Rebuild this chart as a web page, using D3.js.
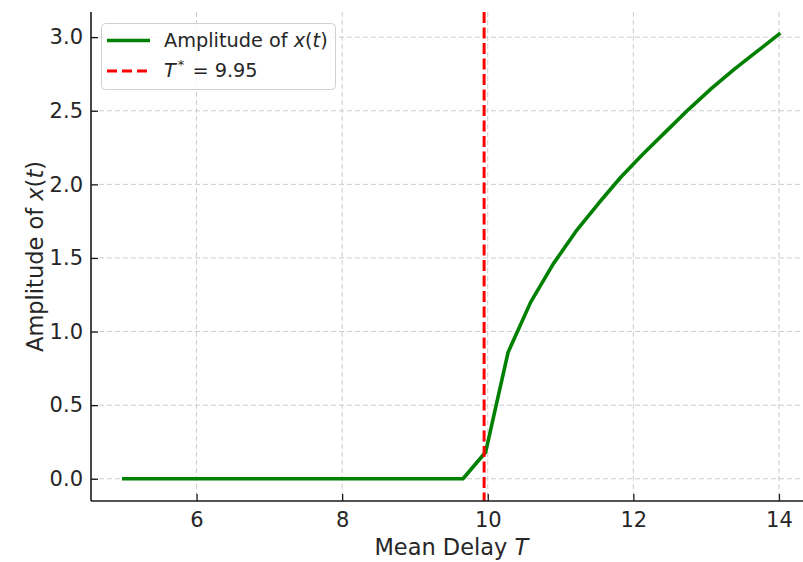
<!DOCTYPE html>
<html>
<head>
<meta charset="utf-8">
<script src="https://cdn.jsdelivr.net/npm/d3@7"></script>
<style>
  html, body { margin: 0; padding: 0; background: #fff; overflow: hidden; }
  svg { display: block; font-family: "DejaVu Sans", sans-serif; }
</style>
</head>
<body>
<svg id="chart" width="803" height="562"></svg>
<script>
// ---- data ----
const delayT = [5.00, 5.31, 5.62, 5.93, 6.24, 6.55, 6.86, 7.17, 7.48, 7.79,
                8.10, 8.41, 8.72, 9.03, 9.34, 9.66, 9.97, 10.28, 10.59, 10.90,
                11.21, 11.52, 11.83, 12.14, 12.45, 12.76, 13.07, 13.38, 13.69, 14.00];
const amplitude = [0, 0, 0, 0, 0, 0, 0, 0, 0, 0,
                   0, 0, 0, 0, 0, 0, 0.18, 0.86, 1.20, 1.46,
                   1.68, 1.87, 2.05, 2.21, 2.36, 2.51, 2.65, 2.78, 2.90, 3.02];
const criticalT = 9.95;
const xTicks = [6, 8, 10, 12, 14];
const yTicks = [0.0, 0.5, 1.0, 1.5, 2.0, 2.5, 3.0];

(function () {
// ---- layout ----
const pLeft = 91, pTop = 12, pBottom = 501, pRight = 811.7;
const svg = d3.select("#chart");

const xMin = d3.min(delayT), xMax = d3.max(delayT);
const xPad = (xMax - xMin) * 0.05;
const yMin = d3.min(amplitude), yMax = d3.max(amplitude);
const yPad = (yMax - yMin) * 0.05;

const x = d3.scaleLinear().domain([xMin - xPad, xMax + xPad]).range([pLeft, pRight]);
const y = d3.scaleLinear().domain([yMin - yPad, yMax + yPad]).range([pBottom, pTop]);

const gridColor = "#cbcbcb";
const textColor = "#262626";

// grid
const grid = svg.append("g");
grid.selectAll("line.vx").data(xTicks).join("line")
  .attr("x1", d => x(d)).attr("x2", d => x(d))
  .attr("y1", pTop).attr("y2", pBottom)
  .attr("stroke", gridColor).attr("stroke-width", 1).attr("stroke-dasharray", "5,3");
grid.selectAll("line.hy").data(yTicks).join("line")
  .attr("x1", pLeft).attr("x2", pRight)
  .attr("y1", d => y(d)).attr("y2", d => y(d))
  .attr("stroke", gridColor).attr("stroke-width", 1).attr("stroke-dasharray", "5,3");

// amplitude line
const data = delayT.map((t, i) => ({t, a: amplitude[i]}));
svg.append("path")
  .datum(data)
  .attr("fill", "none")
  .attr("stroke", "#008000")
  .attr("stroke-width", 3.6)
  .attr("stroke-linejoin", "round")
  .attr("stroke-linecap", "square")
  .attr("d", d3.line().x(d => x(d.t)).y(d => y(d.a)));

// critical delay line
svg.append("line")
  .attr("x1", x(criticalT)).attr("x2", x(criticalT))
  .attr("y1", pTop).attr("y2", pBottom)
  .attr("stroke", "#ff0000").attr("stroke-width", 3)
  .attr("stroke-dasharray", "11,4.5");

// axes
const xAxis = d3.axisBottom(x).tickValues(xTicks).tickFormat(d3.format("d"))
  .tickSizeInner(-7).tickSizeOuter(0).tickPadding(11);
const yAxis = d3.axisLeft(y).tickValues(yTicks).tickFormat(d3.format(".1f"))
  .tickSizeInner(-7).tickSizeOuter(0).tickPadding(8);

const gx = svg.append("g").attr("transform", `translate(0,${pBottom})`).call(xAxis);
const gy = svg.append("g").attr("transform", `translate(${pLeft},0)`).call(yAxis);
[gx, gy].forEach(g => {
  g.attr("font-size", null).attr("font-family", null);
  g.select(".domain").attr("stroke", "#1a1a1a").attr("stroke-width", 1.6);
  g.selectAll(".tick line").attr("stroke", "#1a1a1a").attr("stroke-width", 1.3);
  g.selectAll(".tick text").attr("fill", textColor)
    .style("font-family", "DejaVu Sans").style("font-size", "21px");
});
gx.select(".domain").attr("d", `M${pLeft},0H${pRight}`);
gy.select(".domain").attr("d", `M0,${pTop}V${pBottom}`);

// axis labels
const xl = svg.append("text")
  .attr("x", (pLeft + pRight) / 2).attr("y", 555)
  .attr("text-anchor", "middle").attr("fill", textColor)
  .style("font-size", "22.5px");
xl.append("tspan").text("Mean Delay ");
xl.append("tspan").attr("font-style", "italic").text("T");

const yl = svg.append("text")
  .attr("transform", `translate(42.5,${(pTop + pBottom) / 2}) rotate(-90)`)
  .attr("text-anchor", "middle").attr("fill", textColor)
  .style("font-size", "22.5px");
yl.append("tspan").text("Amplitude of ");
yl.append("tspan").attr("font-style", "italic").text("x");
yl.append("tspan").text("(");
yl.append("tspan").attr("font-style", "italic").text("t");
yl.append("tspan").text(")");

// legend
const lg = svg.append("g");
lg.append("rect")
  .attr("x", 101.5).attr("y", 23.5).attr("width", 234).attr("height", 66)
  .attr("rx", 4).attr("ry", 4)
  .attr("fill", "#ffffff").attr("fill-opacity", 0.8)
  .attr("stroke", "#d0d0d0").attr("stroke-width", 1);
lg.append("line")
  .attr("x1", 107).attr("x2", 150).attr("y1", 40.5).attr("y2", 40.5)
  .attr("stroke", "#008000").attr("stroke-width", 3.6);
lg.append("line")
  .attr("x1", 107).attr("x2", 150).attr("y1", 71).attr("y2", 71)
  .attr("stroke", "#ff0000").attr("stroke-width", 3)
  .attr("stroke-dasharray", "10,5");

const t1 = lg.append("text").attr("x", 164).attr("y", 47.3)
  .attr("fill", textColor).style("font-size", "19.3px");
t1.append("tspan").text("Amplitude of ");
t1.append("tspan").attr("font-style", "italic").text("x");
t1.append("tspan").text("(");
t1.append("tspan").attr("font-style", "italic").text("t");
t1.append("tspan").text(")");

const t2 = lg.append("text").attr("x", 164).attr("y", 77)
  .attr("fill", textColor).style("font-size", "19.3px");
t2.append("tspan").attr("font-style", "italic").text("T");
t2.append("tspan").attr("font-size", "13px").attr("dy", -8).attr("dx", 2).text("*");
t2.append("tspan").attr("dy", 8).attr("dx", 2).text(" = 9.95");
})();
</script>
</body>
</html>
